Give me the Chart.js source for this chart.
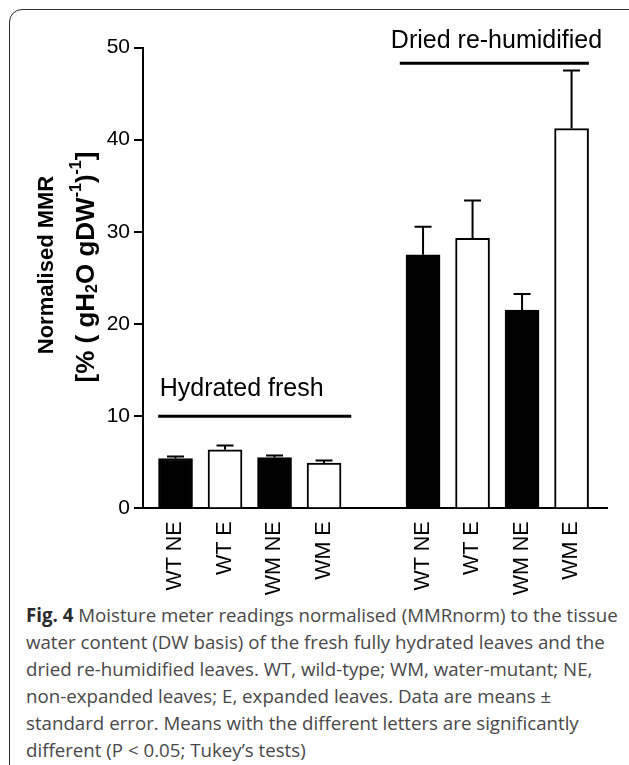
<!DOCTYPE html>
<html>
<head>
<meta charset="utf-8">
<script src="https://cdn.jsdelivr.net/npm/chart.js@4.4.0/dist/chart.umd.min.js"></script>
<style>
    body { margin: 0; background: #fff; width: 629px; height: 765px; overflow: hidden; position: relative; }
    #frame { position: absolute; left: 9px; top: 9px; width: 640px; height: 800px; border: 1.5px solid #2b2b2b; border-radius: 13px; box-sizing: border-box; }
    #chart { position: absolute; left: 0; top: 0; }
    #caption { position: absolute; left: 26px; top: 601px; font-family: "Open Sans", sans-serif; font-size: 18.7px; line-height: 27px; color: #484848; white-space: nowrap; }
    #caption b { color: #2a2a2a; }
</style>
</head>
<body>
<div id="frame"></div>
<canvas id="chart" width="629" height="600"></canvas>
<div id="caption"><b>Fig. 4</b> Moisture meter readings normalised (MMRnorm) to the tissue<br>water content (DW basis) of the fresh fully hydrated leaves and the<br>dried re-humidified leaves. WT, wild-type; WM, water-mutant; NE,<br>non-expanded leaves; E, expanded leaves. Data are means ±<br>standard error. Means with the different letters are significantly<br>different (P &lt; 0.05; Tukey’s tests)</div>

<script>
// data (blank slot = gap between the two groups)
const categories = ["WT NE", "WT E", "WM NE", "WM E", "", "WT NE", "WT E", "WM NE", "WM E"];
const means = [5.4, 6.35, 5.5, 4.9, null, 27.5, 29.3, 21.5, 41.2];
const errors = [0.22, 0.47, 0.22, 0.28, null, 3.05, 4.1, 1.75, 6.3];
const yTicks = [0, 10, 20, 30, 40, 50];
const groupNames = ["Hydrated fresh", "Dried re-humidified"];

const points = [];
categories.forEach((c, i) => {
    if (means[i] !== null) points.push({ x: i, y: means[i], err: errors[i], label: c });
});

// upper error bars only
const errorBars = {
    id: "errorBars",
    afterDatasetsDraw(chart) {
        const ctx = chart.ctx;
        const y = chart.scales.y;
        const meta = chart.getDatasetMeta(0);
        ctx.save();
        ctx.strokeStyle = "#000";
        ctx.lineWidth = 2;
        meta.data.forEach((bar, i) => {
            const p = points[i];
            const top = y.getPixelForValue(p.y + p.err);
            ctx.beginPath();
            ctx.moveTo(bar.x, bar.y);
            ctx.lineTo(bar.x, top);
            ctx.moveTo(bar.x - 8.5, top);
            ctx.lineTo(bar.x + 8.5, top);
            ctx.stroke();
        });
        ctx.restore();
    }
};

// group labels with a bar underneath
const groupMarks = {
    id: "groupMarks",
    afterDraw(chart, args, opts) {
        const ctx = chart.ctx;
        const xs = chart.scales.x, ys = chart.scales.y;
        ctx.save();
        opts.items.forEach((g, i) => {
            const yl = ys.getPixelForValue(g.level);
            ctx.strokeStyle = "#000";
            ctx.lineWidth = 3;
            ctx.beginPath();
            ctx.moveTo(xs.getPixelForValue(g.from), yl);
            ctx.lineTo(xs.getPixelForValue(g.to), yl);
            ctx.stroke();
            ctx.fillStyle = "#000";
            ctx.font = "25px 'Liberation Sans', Arial, sans-serif";
            ctx.textAlign = "left";
            ctx.textBaseline = "alphabetic";
            ctx.fillText(groupNames[i], xs.getPixelForValue(g.textX), ys.getPixelForValue(g.textY));
        });
        ctx.restore();
    }
};

// two-line rotated axis title with sub/superscripts
const yTitle = {
    id: "yTitle",
    afterDraw(chart) {
        const ctx = chart.ctx;
        const fam = "'Liberation Sans', Arial, sans-serif";
        ctx.save();
        ctx.fillStyle = "#000";
        ctx.textBaseline = "middle";

        ctx.save();
        ctx.translate(47, 265);
        ctx.rotate(-Math.PI / 2);
        ctx.font = "bold 22px " + fam;
        ctx.textAlign = "center";
        ctx.fillText("Normalised MMR", 0, 0);
        ctx.restore();

        const segs = [
            { t: "[% ( gH", f: "bold 26px " + fam, dy: 0 },
            { t: "2", f: "bold 16px " + fam, dy: 6 },
            { t: "O gDW", f: "bold 26px " + fam, dy: 0 },
            { t: "-1", f: "bold 16px " + fam, dy: -10 },
            { t: ")", f: "bold 26px " + fam, dy: 0 },
            { t: "-1", f: "bold 16px " + fam, dy: -10 },
            { t: "]", f: "bold 26px " + fam, dy: 0 }
        ];
        let total = 0;
        segs.forEach(s => { ctx.font = s.f; s.w = ctx.measureText(s.t).width; total += s.w; });
        ctx.translate(87, 267);
        ctx.rotate(-Math.PI / 2);
        ctx.textAlign = "left";
        let cx = -total / 2;
        segs.forEach(s => {
            ctx.font = s.f;
            ctx.fillText(s.t, cx, s.dy);
            cx += s.w;
        });
        ctx.restore();
    }
};

new Chart(document.getElementById("chart"), {
    type: "bar",
    data: {
        datasets: [{
            data: points,
            backgroundColor: points.map(p => p.label.endsWith("NE") ? "#000" : "#fff"),
            borderColor: "#000",
            borderWidth: 2,
            barThickness: 34
        }]
    },
    options: {
        responsive: false,
        animation: false,
        devicePixelRatio: 1,
        layout: { padding: { top: 47.5, right: 21.3, left: 0, bottom: 0 } },
        plugins: {
            legend: { display: false },
            tooltip: { enabled: false },
            groupMarks: {
                items: [
                    { from: -0.35, to: 3.55, level: 10, textX: -0.32, textY: 12.2 },
                    { from: 4.53, to: 8.35, level: 48.3, textX: 4.35, textY: 49.9 }
                ]
            }
        },
        scales: {
            x: {
                type: "linear",
                offset: false,
                min: -0.657,
                max: 8.73,
                afterBuildTicks: (scale) => {
                    scale.ticks = categories.map((c, i) => ({ value: i })).filter(t => categories[t.value]);
                },
                afterFit: (scale) => { scale.height = 600 - 508.3; },
                grid: { display: false },
                border: { display: true, color: "#000", width: 2 },
                ticks: {
                    autoSkip: false,
                    minRotation: 90,
                    maxRotation: 90,
                    padding: 5,
                    color: "#000",
                    font: { family: "'Liberation Sans', Arial, sans-serif", size: 21.5 },
                    callback: (v) => categories[v]
                }
            },
            y: {
                min: 0,
                max: 50,
                afterBuildTicks: (scale) => { scale.ticks = yTicks.map(v => ({ value: v })); },
                afterFit: (scale) => { scale.width = 143; },
                grid: { drawOnChartArea: false, drawTicks: true, tickLength: 9, color: "#000", lineWidth: 2 },
                border: { color: "#000", width: 2 },
                ticks: {
                    padding: 4,
                    color: "#000",
                    font: { family: "'Liberation Sans', Arial, sans-serif", size: 21 }
                }
            }
        }
    },
    plugins: [errorBars, groupMarks, yTitle]
});
</script>
</body>
</html>
